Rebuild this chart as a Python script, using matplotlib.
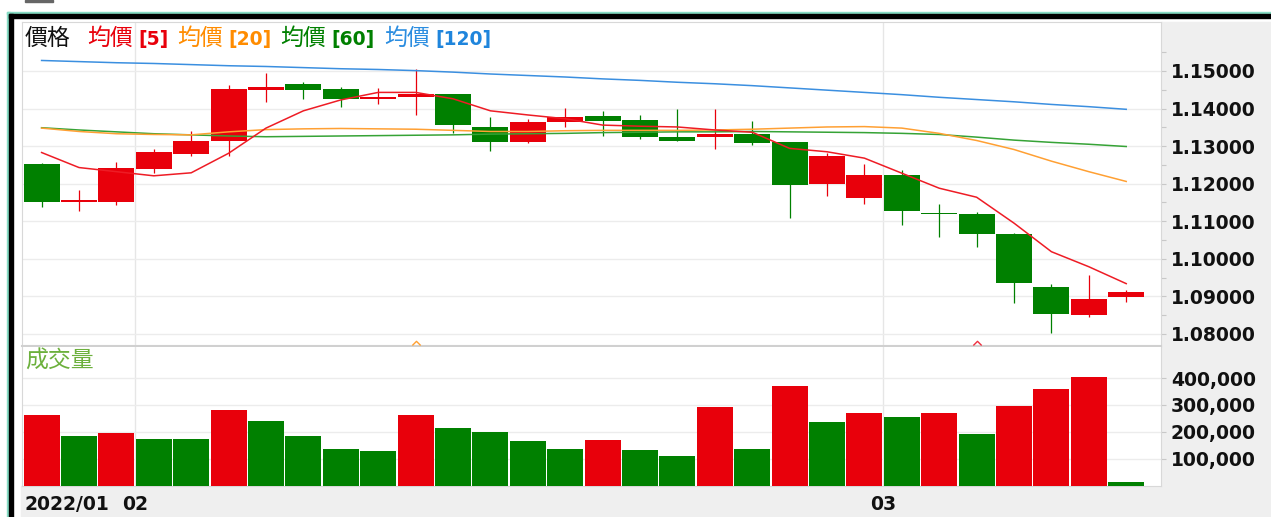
import numpy as np
import matplotlib
matplotlib.use('Agg')
import matplotlib.pyplot as plt
from matplotlib.patches import Rectangle
from matplotlib.ticker import FuncFormatter
from matplotlib.transforms import blended_transform_factory

# ----------------------------------------------------------------------------
# Data
# ----------------------------------------------------------------------------

opens  = [1.1252, 1.1151, 1.1152, 1.1239, 1.1278, 1.1314, 1.1449, 1.1465, 1.1451, 1.1426,
          1.1430, 1.1439, 1.1352, 1.1312, 1.1364, 1.1381, 1.1369, 1.1324, 1.1324, 1.1332,
          1.1310, 1.1198, 1.1162, 1.1222, 1.1123, 1.1119, 1.1066, 1.0925, 1.0851, 1.0898]
highs  = [1.1254, 1.1183, 1.1259, 1.1292, 1.1341, 1.1463, 1.1494, 1.1470, 1.1458, 1.1456,
          1.1505, 1.1440, 1.1378, 1.1373, 1.1402, 1.1394, 1.1383, 1.1398, 1.1398, 1.1368,
          1.1312, 1.1281, 1.1252, 1.1237, 1.1145, 1.1126, 1.1068, 1.0932, 1.0957, 1.0917]
lows   = [1.1139, 1.1128, 1.1142, 1.1229, 1.1274, 1.1274, 1.1418, 1.1425, 1.1405, 1.1411,
          1.1383, 1.1336, 1.1287, 1.1308, 1.1350, 1.1327, 1.1318, 1.1314, 1.1292, 1.1303,
          1.1108, 1.1167, 1.1146, 1.1090, 1.1057, 1.1032, 1.0883, 1.0802, 1.0844, 1.0886]
closes = [1.1152, 1.1156, 1.1243, 1.1285, 1.1314, 1.1451, 1.1458, 1.1449, 1.1425, 1.1432,
          1.1438, 1.1356, 1.1312, 1.1365, 1.1378, 1.1368, 1.1324, 1.1314, 1.1332, 1.1308,
          1.1197, 1.1275, 1.1222, 1.1127, 1.1119, 1.1066, 1.0935, 1.0853, 1.0894, 1.0913]

ma5   = [1.1283, 1.1243, 1.1232, 1.1221, 1.1229, 1.1281, 1.1348, 1.1394, 1.1423, 1.1443,
         1.1443, 1.1426, 1.1394, 1.1383, 1.1373, 1.1356, 1.1353, 1.1351, 1.1343, 1.1337,
         1.1294, 1.1285, 1.1268, 1.1228, 1.1188, 1.1164, 1.1095, 1.1019, 1.0979, 1.0934]
ma20  = [1.1348, 1.1339, 1.1333, 1.1331, 1.1330, 1.1338, 1.1344, 1.1346, 1.1347, 1.1346,
         1.1345, 1.1342, 1.1339, 1.1339, 1.1341, 1.1342, 1.1342, 1.1342, 1.1343, 1.1345,
         1.1348, 1.1351, 1.1352, 1.1348, 1.1334, 1.1315, 1.1291, 1.1260, 1.1232, 1.1206]
ma60  = [1.1349, 1.1343, 1.1338, 1.1333, 1.1330, 1.1327, 1.1325, 1.1326, 1.1327, 1.1328,
         1.1329, 1.1330, 1.1332, 1.1333, 1.1334, 1.1336, 1.1337, 1.1338, 1.1338, 1.1339,
         1.1338, 1.1337, 1.1336, 1.1334, 1.1331, 1.1324, 1.1316, 1.1310, 1.1305, 1.1299]
ma120 = [1.1528, 1.1525, 1.1522, 1.1520, 1.1517, 1.1514, 1.1512, 1.1509, 1.1506, 1.1504,
         1.1501, 1.1497, 1.1492, 1.1488, 1.1484, 1.1479, 1.1475, 1.1470, 1.1466, 1.1461,
         1.1455, 1.1449, 1.1443, 1.1437, 1.1430, 1.1424, 1.1418, 1.1411, 1.1405, 1.1398]

volumes = [262000, 184000, 194000, 174000, 174000, 281000, 240000, 184000, 135000, 130000,
           263000, 213000, 198000, 166000, 135000, 169000, 133000, 110000, 291000, 135000,
           370000, 237000, 269000, 255000, 271000, 193000, 297000, 359000, 403000, 13000]
vol_up  = [1, 0, 1, 0, 0, 1, 0, 0, 0, 0, 1, 0, 0, 0, 0, 1, 0, 0, 1, 0,
           1, 0, 1, 0, 1, 0, 1, 1, 1, 0]

price_ticks = [1.08, 1.09, 1.10, 1.11, 1.12, 1.13, 1.14, 1.15]
vol_ticks = [100000, 200000, 300000, 400000]
month_breaks = [2.5, 22.5]          # first bar of Feb / Mar sits right of these
month_labels = ['02', '03']
first_label = '2022/01'
caret_idx = [10, 25]
caret_colors = ['#ffa033', '#f03040']

# ----------------------------------------------------------------------------
# Styles
# ----------------------------------------------------------------------------

RED, GREEN = '#e8000b', '#008000'
CJK = ['Noto Sans CJK TC', 'DejaVu Sans']
W, H = 1271.0, 517.0

def fx(px):
    return px / W

def fy(py):
    return 1.0 - py / H

fig = plt.figure(figsize=(12.71, 5.17), dpi=100)
fig.patch.set_facecolor('white')

# grey label areas and outer frame
fig.patches.append(Rectangle((fx(1161), 0), fx(110), fy(22), transform=fig.transFigure,
                             color='#efefef', zorder=-2))
fig.patches.append(Rectangle((fx(21), 0), fx(1250), 31 / H, transform=fig.transFigure,
                             color='#efefef', zorder=-2))
fig.patches.append(Rectangle((fx(7), 0), fx(3), fy(12), transform=fig.transFigure,
                             color='#86dcc4', zorder=-1))
fig.patches.append(Rectangle((fx(7), fy(14)), fx(1264), 2 / H, transform=fig.transFigure,
                             color='#86dcc4', zorder=-1))
fig.patches.append(Rectangle((fx(9), 0), fx(4), fy(14), transform=fig.transFigure,
                             color='black', zorder=-1))
fig.patches.append(Rectangle((fx(9), fy(18)), fx(1262), 4 / H, transform=fig.transFigure,
                             color='black', zorder=-1))
fig.patches.append(Rectangle((fx(25), fy(2)), fx(28), 2 / H, transform=fig.transFigure,
                             color='#666666', zorder=-1))

ax = fig.add_axes([fx(22), fy(346), fx(1139), (346 - 22) / H])
axv = fig.add_axes([fx(22), fy(485.5), fx(1139), (485.5 - 347) / H])

x = np.arange(len(opens))
o = np.array(opens); c = np.array(closes)
up = c >= o
cols = [RED if u else GREEN for u in up]

# ----------------------------------------------------------------------------
# Price panel
# ----------------------------------------------------------------------------

ax.vlines(x, lows, highs, colors=cols, linewidth=0.9, zorder=3)
ax.bar(x, np.abs(c - o), bottom=np.minimum(o, c), width=0.96, color=cols,
       linewidth=0, zorder=4)

ax.plot(x, ma120, color='#3b8fe0', lw=1.1, zorder=5)
ax.plot(x, ma60, color='#36a336', lw=1.1, zorder=5)
ax.plot(x, ma20, color='#ffa033', lw=1.1, zorder=5)
ax.plot(x, ma5, color='#ee1c25', lw=1.1, zorder=6)

for i, cc in zip(caret_idx, caret_colors):
    ax.plot(i, 1.0770, marker=[(-1, 0), (0, 1), (1, 0)], markersize=6,
            markerfacecolor='none', markeredgecolor=cc, markeredgewidth=1.0,
            linestyle='none', zorder=6, clip_on=False)

ax.set_xlim(-0.524, 29.93)
ax.set_ylim(1.0768, 1.16304)
ax.set_yticks(price_ticks)
ax.set_yticks([t + 0.005 for t in price_ticks], minor=True)
ax.yaxis.set_major_formatter(FuncFormatter(lambda v, p: '%.5f' % v))
ax.yaxis.tick_right()
ax.set_xticks([])
ax.grid(axis='y', color='#ececec', lw=1.0, zorder=0)
for m in month_breaks:
    ax.axvline(m, color='#e6e6e6', lw=1.0, zorder=0)

# ----------------------------------------------------------------------------
# Volume panel
# ----------------------------------------------------------------------------

vcols = [RED if u else GREEN for u in vol_up]
axv.bar(x, volumes, width=0.96, color=vcols, linewidth=0, zorder=3)
axv.set_xlim(-0.524, 29.93)
axv.set_ylim(0, 516000)
axv.set_yticks(vol_ticks)
axv.yaxis.set_major_formatter(FuncFormatter(lambda v, p: '{:,.0f}'.format(v)))
axv.yaxis.tick_right()
axv.set_xticks([])
axv.grid(axis='y', color='#ececec', lw=1.0, zorder=0)
for m in month_breaks:
    axv.axvline(m, color='#e6e6e6', lw=1.0, zorder=0)

for a in (ax, axv):
    a.set_facecolor('white')
    a.tick_params(axis='y', which='both', length=3.6, width=0.8, color='#c8c8c8',
                  pad=3.6, labelsize=13.5, labelcolor='#111111')
    a.tick_params(axis='y', which='minor', length=3.6)
    for lab in a.get_yticklabels():
        lab.set_fontweight('bold')
    for s in ('left', 'top', 'right'):
        a.spines[s].set_color('#d8d8d8')
        a.spines[s].set_linewidth(0.8)
ax.spines['bottom'].set_color('#d0d0d0')
ax.spines['bottom'].set_linewidth(1.5)
axv.spines['top'].set_visible(False)
axv.spines['bottom'].set_color('#d8d8d8')
axv.spines['bottom'].set_linewidth(0.8)

# ----------------------------------------------------------------------------
# Texts
# ----------------------------------------------------------------------------

legend_parts = [
    (25, '價格', '#111111', False),
    (87, '均價', RED, False), (138, '[5]', RED, True),
    (177, '均價', '#ff8c00', False), (228, '[20]', '#ff8c00', True),
    (280, '均價', GREEN, False), (331, '[60]', GREEN, True),
    (384, '均價', '#2b8de0', False), (435, '[120]', '#1f85dc', True),
]
for px, txt, col, bold in legend_parts:
    if bold:
        fig.text(fx(px), fy(39), txt, color=col, fontsize=13.5, fontweight='bold',
                 family='DejaVu Sans', va='center', ha='left')
    else:
        fig.text(fx(px), fy(38), txt, color=col, fontsize=16.5, family=CJK,
                 va='center', ha='left')

fig.text(fx(25), fy(361), '成交量', color='#6cb03c', fontsize=16.5, family=CJK,
         va='center', ha='left')

fig.text(fx(24), fy(504), first_label, fontsize=13.5, fontweight='bold',
         color='#111111', va='center', ha='left')
tr = blended_transform_factory(axv.transData, fig.transFigure)
for m, lab in zip(month_breaks, month_labels):
    axv.text(m, fy(504), lab, transform=tr, fontsize=13.5, fontweight='bold',
             color='#111111', va='center', ha='center', clip_on=False)

fig.savefig('out.png', dpi=100)
